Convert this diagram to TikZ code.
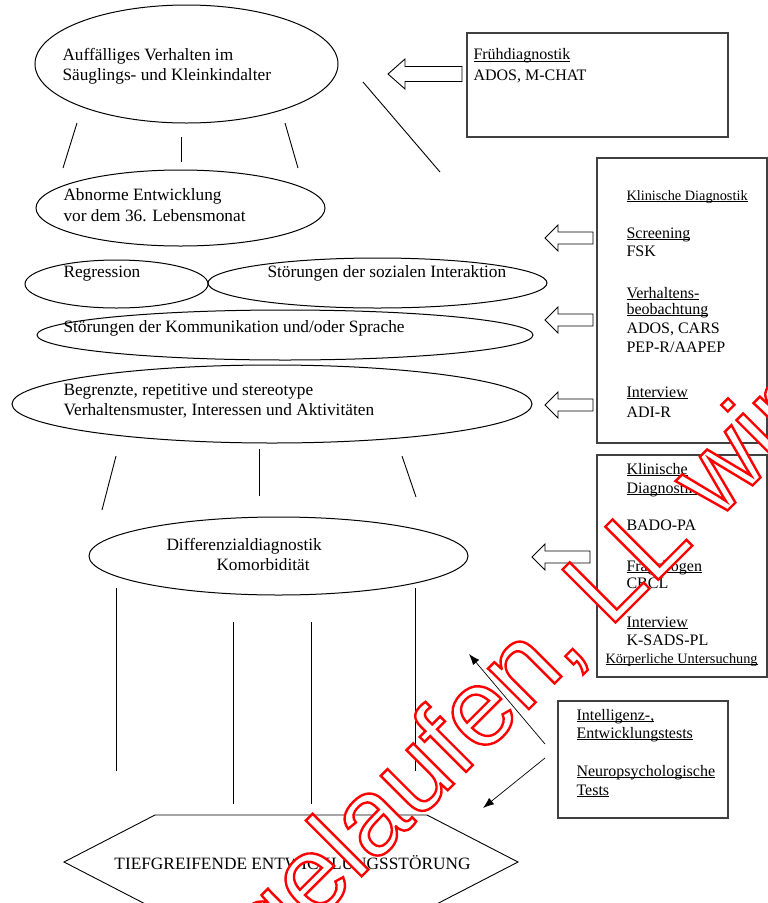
\documentclass[tikz,border=0pt]{standalone}
\usepackage{fontspec}
\setmainfont{Liberation Serif}
\newfontfamily\wmfont{Liberation Sans}
\usetikzlibrary{shapes.geometric,arrows.meta,calc}
\newcommand\myul[1]{\setbox0=\hbox{#1}\rlap{\rule[-2.2pt]{\wd0}{0.9pt}}\box0}
\newcommand\wmstroke[1]{\special{pdf:literal direct 2 Tr 2.4 w 1 0 0 RG 1 1 1 rg}#1\special{pdf:literal direct 0 Tr}}
\begin{document}
\begin{tikzpicture}[x=1pt,y=-1pt, line width=1pt,
  ell/.style={draw, ellipse, inner sep=0pt},
  box/.style={draw=black!75, line width=1.4pt, rectangle, inner sep=0pt},
  txt/.style={anchor=base west, inner sep=0pt, font=\fontsize{17.3}{20}\selectfont},
  btxt/.style={anchor=base west, inner sep=0pt, font=\fontsize{16}{18}\selectfont},
  stxt/.style={anchor=base west, inner sep=0pt, font=\fontsize{14.3}{16}\selectfont},
  link/.style={line width=0.9pt},
  thinarrow/.style={line width=0.7pt, -{Latex[length=11pt,width=8pt]}},
  wm/.style={anchor=base west, inner sep=0pt, rotate=45, font=\wmfont\fontsize{109}{109}\selectfont},
  pics/harrow/.style n args={4}{code={
    \draw[line width=0.9pt] (0,0) -- (#2,-#3) -- (#2,-#4) -- (#1,-#4) -- (#1,#4) -- (#2,#4) -- (#2,#3) -- cycle;}}
]
\useasboundingbox (0,0) rectangle (768,903);
\fill[white] (0,0) rectangle (768,903);

% ---- ellipses ----
\node[ell, minimum width=303pt, minimum height=118pt] (e1) at (186.5,64) {};
\node[ell, minimum width=289pt, minimum height=76pt] (e2) at (180.5,208) {};
\node[ell, minimum width=183pt, minimum height=48pt] (reg) at (116.5,284) {};
\node[ell, minimum width=339pt, minimum height=50pt] (soz) at (377.5,283) {};
\node[ell, minimum width=496pt, minimum height=50pt] (kom) at (285,335) {};
\node[ell, minimum width=520pt, minimum height=78pt] (beg) at (272,404) {};
\node[ell, minimum width=379pt, minimum height=78pt] (dif) at (278.5,556) {};

% ---- ellipse texts ----
\node[txt] (t1a) at (62,60) {Auffälliges Verhalten im};
\node[txt] (t1b) at (62,80) {Säuglings- und Kleinkindalter};
\node[txt] (t2a) at (63,200) {Abnorme Entwicklung};
\node[txt] (t2b) at (63,221) {vor dem 36. Lebensmonat};
\node[txt] (t3) at (63,277) {Regression};
\node[txt] (t4) at (267,277) {Störungen der sozialen Interaktion};
\node[txt] (t5) at (63,332) {Störungen der Kommunikation und/oder Sprache};
\node[txt] (t6a) at (63,395) {Begrenzte, repetitive und stereotype};
\node[txt] (t6b) at (63,415) {Verhaltensmuster, Interessen und Aktivitäten};
\node[txt] (t7a) at (166,550) {Differenzialdiagnostik};
\node[txt] (t7b) at (216,570) {Komorbidität};

% ---- short lines ----
\draw[link] (77,123) -- (63,168);
\draw[link] (181,137) -- (181,162);
\draw[link] (285,123) -- (298,168);
\draw[link] (363,82) -- (440,172);
\draw[link] (116,456) -- (102,510);
\draw[link] (259,449) -- (259,496);
\draw[link] (402,456) -- (416,497);
\draw[link] (116,588) -- (116,771);
\draw[link] (415,588) -- (415,771);
\draw[link] (233,622) -- (233,804);
\draw[link] (311,622) -- (311,804);

% ---- hexagon ----
\coordinate (h1) at (155,815);
\coordinate (h2) at (427,815);
\coordinate (h3) at (518,862);
\coordinate (h4) at (427,909);
\coordinate (h5) at (155,909);
\coordinate (h6) at (64,862);
\draw[line width=0.9pt] (h1) -- (h2) -- (h3) -- (h4) -- (h5) -- (h6) -- cycle;
\node[anchor=base, inner sep=0pt, font=\fontsize{17.3}{20}\selectfont] (tief) at (292.5,869) {TIEFGREIFENDE ENTWICKLUNGSSTÖRUNG};

% ---- boxes ----
\node[box, minimum width=261pt, minimum height=104pt] (bfd) at (597.5,85) {};
\node[box, minimum width=170pt, minimum height=285pt] (bkd) at (682,300.5) {};
\node[box, minimum width=170pt, minimum height=222pt] (bkd2) at (682,566) {};
\node[box, minimum width=170pt, minimum height=117pt] (bint) at (643,759.5) {};

% box texts
\node[btxt] (f1) at (473,59.5) {\myul{Frühdiagnostik}};
\node[btxt] (f2) at (473,80) {ADOS, M-CHAT};

\node[stxt] (k0) at (626,200) {\myul{Klinische Diagnostik}};
\node[btxt] (k1) at (626,238) {\myul{Screening}};
\node[btxt] (k2) at (626,256) {FSK};
\node[btxt] (k3) at (626,298) {\myul{Verhaltens-}};
\node[btxt] (k4) at (626,314) {\myul{beobachtung}};
\node[btxt] (k5) at (626,333) {ADOS, CARS};
\node[btxt] (k6) at (626,352) {PEP-R/AAPEP};
\node[btxt] (k7) at (626,397) {\myul{Interview}};
\node[btxt] (k8) at (626,417) {ADI-R};

\node[btxt] (m1) at (626,474) {\myul{Klinische}};
\node[btxt] (m2) at (626,493) {\myul{Diagnostik}};
\node[btxt] (m3) at (626,530) {BADO-PA};
\node[btxt] (m4) at (626,571) {\myul{Fragebogen}};
\node[btxt] (m5) at (626,588) {CBCL};
\node[btxt] (m6) at (626,627) {\myul{Interview}};
\node[btxt] (m7) at (626,645) {K-SADS-PL};
\node[stxt] (m8) at (605,663) {\myul{Körperliche Untersuchung}};

\node[btxt] (n1) at (576,720) {\myul{Intelligenz-,}};
\node[btxt] (n2) at (576,738) {\myul{Entwicklungstests}};
\node[btxt] (n3) at (576,776) {\myul{Neuropsychologische}};
\node[btxt] (n4) at (576,795) {\myul{Tests}};

% ---- hollow arrows ----
\pic (a0) at (388,74) {harrow={74}{17}{15}{7.5}};
\pic (a1) at (545,238) {harrow={48}{13}{13}{6}};
\pic (a2) at (545,320) {harrow={48}{13}{13}{6}};
\pic (a3) at (545,405) {harrow={48}{13}{13}{6}};
\pic (a4) at (532,557) {harrow={58}{13}{13}{6}};

% ---- thin arrows ----
\coordinate (p1s) at (545,744);
\coordinate (p1e) at (469,654);
\coordinate (p2s) at (545,758);
\coordinate (p2e) at (483,808);
\draw[thinarrow] (p1s) -- (p1e);
\draw[thinarrow] (p2s) -- (p2e);

% ---- watermark ----
\begin{scope}
\clip (0,0) rectangle (768,903);
\node[wm] (wmtext) at (270.4,967.6) {\wmstroke{gelaufen, LL wird}};
\end{scope}
\end{tikzpicture}
\end{document}
